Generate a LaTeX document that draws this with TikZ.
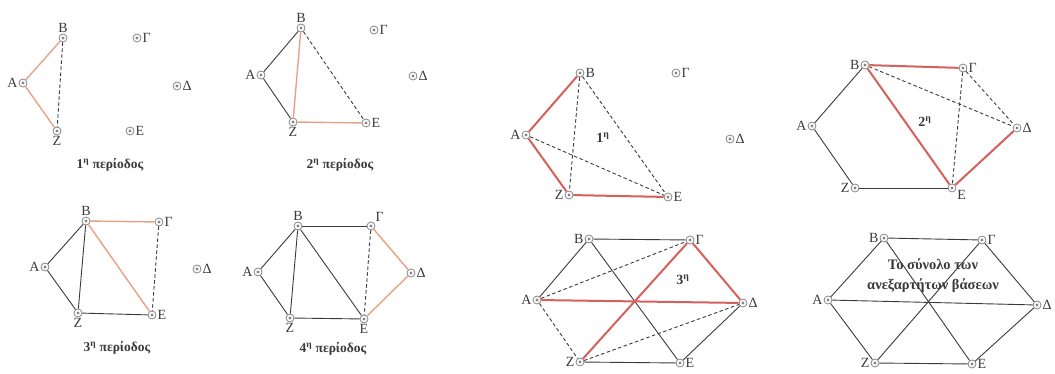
\documentclass[tikz,border=0pt]{standalone}
\usepackage{fontspec}
\setmainfont{Liberation Serif}
\usetikzlibrary{positioning}
\definecolor{ink}{HTML}{3A3A3A}
\definecolor{ring}{HTML}{858585}
\definecolor{peach}{HTML}{E8A185}
\definecolor{brick}{HTML}{D5605C}

\begin{document}
\begin{tikzpicture}[
  x=1pt,y=-1pt,
  vtx/.style={circle,draw=ring,fill=white,line width=0.8pt,minimum size=8pt,inner sep=0pt,
    path picture={\fill[ring] (path picture bounding box.center) circle (1.7pt);}},
  lbl/.style={font=\fontsize{14}{16}\selectfont,text=ink,inner sep=1pt},
  edge/.style={draw=ink,line width=0.9pt},
  skip/.style={draw=ink,line width=0.9pt,dash pattern=on 3.5pt off 2.5pt},
  soft/.style={draw=peach,line width=1.4pt},
  base/.style={draw=brick,line width=2pt},
  title/.style={font=\fontsize{13.5}{15}\bfseries,text=ink},
  tag/.style={font=\fontsize{14}{16}\bfseries,text=ink}
]
\useasboundingbox (0,0) rectangle (1055,374);

% 1st period
\foreach \n/\x/\y/\t/\p in {A/23/83/Α/180,B/63/38/Β/90,G/137/38/Γ/0,D/177/86/Δ/0,Z/57/131/Ζ/270,E/130/131/Ε/0}
  \node[vtx,label={[lbl]\p:\t}] (p1\n) at (\x,\y) {};
\foreach \a/\b in {A/B,A/Z} \draw[soft] (p1\a)--(p1\b);
\draw[skip] (p1B)--(p1Z);
\node[title] (t1) at (110,165) {1\textsuperscript{η} περίοδος};

% 2nd period
\foreach \n/\x/\y/\t/\p in {A/261/75/Α/180,B/301/28/Β/90,G/374/30/Γ/0,D/413/76/Δ/0,Z/293/122/Ζ/270,E/366/123/Ε/0}
  \node[vtx,label={[lbl]\p:\t}] (p2\n) at (\x,\y) {};
\foreach \a/\b in {A/B,A/Z} \draw[edge] (p2\a)--(p2\b);
\foreach \a/\b in {B/Z,Z/E} \draw[soft] (p2\a)--(p2\b);
\draw[skip] (p2B)--(p2E);
\node[title] (t2) at (340,165) {2\textsuperscript{η} περίοδος};

% 3rd period
\foreach \n/\x/\y/\t/\p in {A/45/267/Α/180,B/86/221/Β/90,G/159/222/Γ/0,D/197/269/Δ/0,Z/78/313/Ζ/270,E/152/315/Ε/0}
  \node[vtx,label={[lbl]\p:\t}] (p3\n) at (\x,\y) {};
\foreach \a/\b in {A/B,A/Z,B/Z,Z/E} \draw[edge] (p3\a)--(p3\b);
\foreach \a/\b in {B/G,B/E} \draw[soft] (p3\a)--(p3\b);
\draw[skip] (p3G)--(p3E);
\node[title] (t3) at (117,348) {3\textsuperscript{η} περίοδος};

% 4th period
\foreach \n/\x/\y/\t/\p in {A/258/272/Α/180,B/298/226/Β/90,G/371/226/Γ/40,D/411/273/Δ/0,Z/290/318/Ζ/270,E/364/319/Ε/270}
  \node[vtx,label={[lbl]\p:\t}] (p4\n) at (\x,\y) {};
\foreach \a/\b in {A/B,A/Z,B/Z,Z/E,B/G,B/E} \draw[edge] (p4\a)--(p4\b);
\foreach \a/\b in {G/D,D/E} \draw[soft] (p4\a)--(p4\b);
\draw[skip] (p4G)--(p4E);
\node[title] (t4) at (333,349) {4\textsuperscript{η} περίοδος};

% first base
\foreach \n/\x/\y/\t/\p in {A/526/135/Α/180,B/580/73/Β/0,G/676/73/Γ/0,D/730/139/Δ/0,Z/569/195/Ζ/180,E/668/197/Ε/0}
  \node[vtx,label={[lbl]\p:\t}] (p5\n) at (\x,\y) {};
\foreach \a/\b in {B/Z,B/E,A/E} \draw[skip] (p5\a)--(p5\b);
\foreach \a/\b in {A/B,A/Z,Z/E} \draw[base] (p5\a)--(p5\b);
\node[tag] (n1) at (603,138) {1\textsuperscript{η}};

% second base
\foreach \n/\x/\y/\t/\p in {A/812/126/Α/180,B/865/65/Β/180,G/963/68/Γ/0,D/1017/128/Δ/0,Z/855/188/Ζ/180,E/952/188/Ε/-20}
  \node[vtx,label={[lbl]\p:\t}] (p6\n) at (\x,\y) {};
\foreach \a/\b in {A/B,A/Z,Z/E} \draw[edge] (p6\a)--(p6\b);
\foreach \a/\b in {B/D,G/D,G/E} \draw[skip] (p6\a)--(p6\b);
\foreach \a/\b in {B/G,B/E,E/D} \draw[base] (p6\a)--(p6\b);
\node[tag] (n2) at (925,122) {2\textsuperscript{η}};

% third base
\foreach \n/\x/\y/\t/\p in {A/537/300/Α/180,B/589/239/Β/180,G/690/240/Γ/0,D/743/303/Δ/0,Z/580/362/Ζ/180,E/680/363/Ε/0}
  \node[vtx,label={[lbl]\p:\t}] (p7\n) at (\x,\y) {};
\foreach \a/\b in {A/B,B/G,B/E,D/E,Z/E} \draw[edge] (p7\a)--(p7\b);
\foreach \a/\b in {A/G,A/Z,Z/D} \draw[skip] (p7\a)--(p7\b);
\foreach \a/\b in {G/D,A/D,G/Z} \draw[base] (p7\a)--(p7\b);
\node[tag] (n3) at (683,280) {3\textsuperscript{η}};

% all independent bases
\foreach \n/\x/\y/\t/\p in {A/828/300/Α/180,B/884/238/Β/180,G/982/240/Γ/0,D/1037/305/Δ/0,Z/875/363/Ζ/180,E/972/364/Ε/0}
  \node[vtx,label={[lbl]\p:\t}] (p8\n) at (\x,\y) {};
\foreach \a/\b in {A/B,B/G,G/D,D/E,E/Z,Z/A,A/D,B/E,G/Z} \draw[edge] (p8\a)--(p8\b);
\node[tag,align=center,font=\fontsize{14.5}{20}\bfseries] (all) at (933,276) {Το σύνολο των\\ανεξαρτήτων βάσεων};
\end{tikzpicture}
\end{document}
